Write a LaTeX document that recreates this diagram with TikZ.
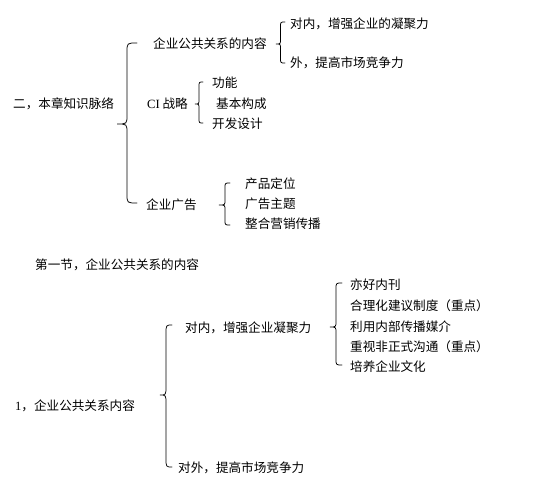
\documentclass[tikz,border=0pt]{standalone}
\usepackage{fontspec}
\setmainfont{Liberation Serif}
\newfontfamily\cjk{Noto Sans CJK SC}
\tikzset{
  lbl/.style={anchor=west, inner sep=0pt, font=\cjk\fontsize{12.6}{14}\selectfont},
  brc/.style={draw=black, line width=0.75pt, line cap=round}
}
\begin{document}
\begin{tikzpicture}[x=1pt,y=-1pt]
\useasboundingbox[fill=white] (0,0) rectangle (540,478);
% brace: #1 xe, #2 xm, #3 xt, #4 yt, #5 ytip, #6 yb, #7 r
\def\brace#1#2#3#4#5#6#7{%
  \draw[brc] (#1,#4) .. controls (#2,#4) .. (#2,#4+#7)
    -- (#2,#5-#7) .. controls (#2,#5) .. (#3,#5)
    .. controls (#2,#5) .. (#2,#5+#7)
    -- (#2,#6-#7) .. controls (#2,#6) .. (#1,#6);}
% top part
\node[lbl] (root) at (13,104) {二，本章知识脉络};
\brace{137}{127}{117}{43}{124}{203}{9}
\node[lbl] (gg) at (153,44) {企业公共关系的内容};
\brace{285}{280.5}{276}{22}{44}{63}{5}
\node[lbl] (gg1) at (290,24) {对内，增强企业的凝聚力};
\node[lbl] (gg2) at (290,63) {外，提高市场竞争力};
\node[lbl] (ci) at (147,104) {{\rmfamily CI} 战略};
\brace{203}{199}{195}{82}{104}{123}{5}
\node[lbl] (ci1) at (212,83) {功能};
\node[lbl] (ci2) at (216,104) {基本构成};
\node[lbl] (ci3) at (212,124) {开发设计};
\node[lbl] (ad) at (146,205) {企业广告};
\brace{230}{225}{219}{183}{205}{225}{5}
\node[lbl] (ad1) at (245,184) {产品定位};
\node[lbl] (ad2) at (245,204) {广告主题};
\node[lbl] (ad3) at (245,224) {整合营销传播};
% bottom part
\node[lbl] (sec) at (35,265) {第一节，企业公共关系的内容};
\node[lbl] (c1) at (15,406) {{\rmfamily 1}，企业公共关系内容};
\brace{172}{166}{160}{325}{395}{467}{9}
\node[lbl] (in) at (185,328) {对内，增强企业凝聚力};
\node[lbl] (out) at (178,468) {对外，提高市场竞争力};
\brace{342}{336}{330}{283}{327}{365}{6}
\node[lbl] (i1) at (350,285) {亦好内刊};
\node[lbl] (i2) at (350,306) {合理化建议制度（重点）};
\node[lbl] (i3) at (350,327) {利用内部传播媒介};
\node[lbl] (i4) at (350,347) {重视非正式沟通（重点）};
\node[lbl] (i5) at (350,367) {培养企业文化};
\end{tikzpicture}
\end{document}
